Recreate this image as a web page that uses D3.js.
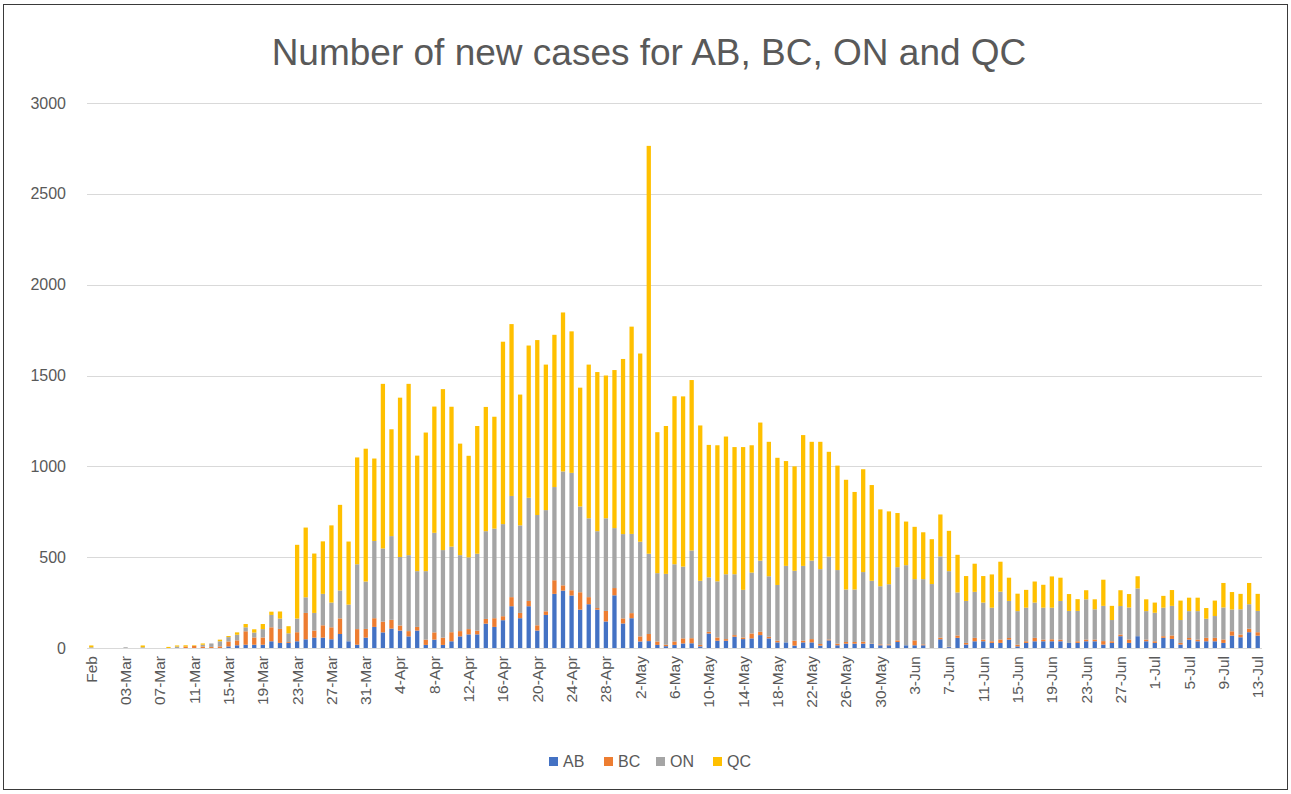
<!DOCTYPE html>
<html><head><meta charset="utf-8">
<script src="https://cdn.jsdelivr.net/npm/d3@7"></script>
<style>body{margin:0;background:#fff}svg{display:block}text{font-family:"Liberation Sans",Arial,sans-serif}</style>
</head><body><svg id="c" width="1291" height="794"></svg>
<script>
const categories = ["Feb","29-Feb",
"01-Mar","02-Mar","03-Mar","04-Mar","05-Mar","06-Mar","07-Mar","08-Mar","09-Mar","10-Mar","11-Mar","12-Mar","13-Mar","14-Mar","15-Mar","16-Mar","17-Mar","18-Mar","19-Mar","20-Mar","21-Mar","22-Mar","23-Mar","24-Mar","25-Mar","26-Mar","27-Mar","28-Mar","29-Mar","30-Mar","31-Mar",
"1-Apr","2-Apr","3-Apr","4-Apr","5-Apr","6-Apr","7-Apr","8-Apr","9-Apr","10-Apr","11-Apr","12-Apr","13-Apr","14-Apr","15-Apr","16-Apr","17-Apr","18-Apr","19-Apr","20-Apr","21-Apr","22-Apr","23-Apr","24-Apr","25-Apr","26-Apr","27-Apr","28-Apr","29-Apr","30-Apr",
"1-May","2-May","3-May","4-May","5-May","6-May","7-May","8-May","9-May","10-May","11-May","12-May","13-May","14-May","15-May","16-May","17-May","18-May","19-May","20-May","21-May","22-May","23-May","24-May","25-May","26-May","27-May","28-May","29-May","30-May","31-May",
"1-Jun","2-Jun","3-Jun","4-Jun","5-Jun","6-Jun","7-Jun","8-Jun","9-Jun","10-Jun","11-Jun","12-Jun","13-Jun","14-Jun","15-Jun","16-Jun","17-Jun","18-Jun","19-Jun","20-Jun","21-Jun","22-Jun","23-Jun","24-Jun","25-Jun","26-Jun","27-Jun","28-Jun","29-Jun","30-Jun",
"1-Jul","2-Jul","3-Jul","4-Jul","5-Jul","6-Jul","7-Jul","8-Jul","9-Jul","10-Jul","11-Jul","12-Jul","13-Jul"];

const tickLabels = ["Feb","03-Mar","07-Mar","11-Mar","15-Mar","19-Mar","23-Mar","27-Mar","31-Mar","4-Apr","8-Apr","12-Apr","16-Apr","20-Apr","24-Apr","28-Apr","2-May","6-May","10-May","14-May","18-May","22-May","26-May","30-May","3-Jun","7-Jun","11-Jun","15-Jun","19-Jun","23-Jun","27-Jun","1-Jul","5-Jul","9-Jul","13-Jul"];

const yTicks = [0,500,1000,1500,2000,2500,3000];

const AB = [0,0,0,0,0,0,0,0,0,0,0,0,0,0,0,0,9,15,18,18,
18,37,28,28,37,48,57,57,48,77,37,18,57,116,86,107,96,64,96,17,
46,17,37,64,75,75,134,116,153,230,164,230,96,182,298,316,289,211,241,211,
146,290,135,164,36,38,17,10,17,25,26,9,80,40,40,62,49,53,71,53,
31,31,13,31,31,13,42,15,24,24,24,22,15,15,33,15,15,15,0,48,
5,56,19,37,37,28,28,46,9,28,37,37,37,37,28,28,37,37,19,28,
65,28,65,37,28,56,50,19,46,37,37,37,28,68,59,87,68];

const BC = [0,0,0,0,0,0,0,0,0,0,0,8,12,8,6,9,27,27,74,40,
40,77,77,5,50,145,39,68,66,86,0,86,48,48,59,48,28,29,20,29,
40,40,50,29,29,20,26,48,22,50,29,29,29,20,75,29,29,96,39,9,
58,40,28,28,28,39,19,8,19,28,28,8,9,18,9,9,9,27,18,9,
9,0,27,9,18,9,5,9,9,9,11,2,5,5,9,0,27,5,0,9,
2,13,9,19,9,9,19,9,9,9,19,9,11,9,0,9,9,9,19,9,
9,19,0,9,9,9,19,9,9,9,19,19,19,24,15,19,19];

const ON = [4,0,0,0,4,0,4,0,0,0,8,0,0,10,19,28,24,31,22,27,
46,68,57,48,75,86,97,173,136,154,202,357,261,425,403,461,377,418,307,377,
548,482,471,418,395,424,483,493,507,557,482,568,607,557,513,627,646,472,434,423,
510,330,464,436,521,442,376,390,425,395,483,353,300,309,357,335,262,335,392,333,
307,421,385,412,432,412,456,405,289,289,383,346,320,331,403,441,337,359,352,447,
416,237,231,253,204,185,263,204,185,185,194,176,174,213,176,167,222,167,194,117,
157,176,263,157,157,157,163,126,148,157,105,120,176,120,139,135,117];

const QC = [10,0,0,0,0,0,10,0,0,6,6,7,3,7,0,9,6,13,18,18,
28,18,39,39,406,384,327,289,425,471,347,588,731,454,906,588,877,943,636,763,
695,886,770,614,559,703,684,616,1004,946,720,838,963,801,838,875,779,654,846,876,
786,870,964,1141,1036,2245,776,814,925,937,938,855,729,749,758,700,786,701,760,740,
700,577,575,720,654,701,577,575,604,537,566,527,423,401,298,240,288,258,247,231,
222,207,137,155,146,183,165,128,96,98,116,126,172,128,93,65,50,55,144,78,
87,74,67,65,56,65,87,107,74,74,59,85,135,96,85,117,94];

const seriesNames = ["AB","BC","ON","QC"];
const seriesColors = ["#4472C4","#ED7D31","#A5A5A5","#FFC000"];

const svg = d3.select("#c");
svg.append("rect").attr("x",3.5).attr("y",4.5).attr("width",1284).attr("height",785)
  .attr("fill","#fff").attr("stroke","#3a3a3a").attr("stroke-width",1);

const x = d3.scaleBand().domain(categories).range([87,1262]).paddingInner(0.5).paddingOuter(0.25);
const y = d3.scaleLinear().domain([0,3000]).range([648,103]);

// gridlines
svg.append("g").selectAll("line").data(yTicks).join("line")
  .attr("x1",87).attr("x2",1262)
  .attr("y1",d=>Math.round(y(d))+0.5).attr("y2",d=>Math.round(y(d))+0.5)
  .attr("stroke","#d9d9d9").attr("stroke-width",1);

// y labels
svg.append("g").selectAll("text").data(yTicks).join("text")
  .attr("x",66).attr("y",d=>y(d)+5.5).attr("text-anchor","end")
  .attr("font-size",16).attr("fill","#595959").text(d=>d);

// stacked bars
const table = categories.map((c,i)=>({cat:c,AB:AB[i],BC:BC[i],ON:ON[i],QC:QC[i]}));
const stack = d3.stack().keys(seriesNames)(table);
svg.append("g").selectAll("g").data(stack).join("g")
  .attr("fill",(d,i)=>seriesColors[i])
  .selectAll("rect").data(d=>d).join("rect")
  .attr("x",d=>x(d.data.cat)).attr("width",x.bandwidth())
  .attr("y",d=>y(d[1])).attr("height",d=>Math.max(0,y(d[0])-y(d[1])));

// x axis
const tickCats = categories.filter((c,i)=>i%4===0);
const xAxis = d3.axisBottom(x).tickValues(tickCats).tickSize(0)
  .tickFormat((d)=>tickLabels[tickCats.indexOf(d)]);
const gx = svg.append("g").attr("transform","translate(0,648)").call(xAxis);
gx.select(".domain").attr("stroke","#d9d9d9").attr("d","M87,0.5H1262");
gx.selectAll("text").attr("font-size",15.5).attr("fill","#595959")
  .attr("font-family","Liberation Sans, Arial, sans-serif")
  .attr("transform","rotate(-90)").attr("text-anchor","end")
  .attr("x",-8).attr("y",0).attr("dy","0.35em");

// title
svg.append("text").attr("x",649).attr("y",65).attr("text-anchor","middle")
  .attr("font-size",37).attr("fill","#595959")
  .text("Number of new cases for AB, BC, ON and QC");

// legend
const legX = [549,604,656,713];
const lg = svg.append("g").selectAll("g").data(seriesNames).join("g")
  .attr("transform",(d,i)=>`translate(${legX[i]},757)`);
lg.append("rect").attr("width",9).attr("height",9).attr("fill",(d,i)=>seriesColors[i]);
lg.append("text").attr("x",14).attr("y",9.5).attr("font-size",16).attr("fill","#595959").text(d=>d);
</script></body></html>
